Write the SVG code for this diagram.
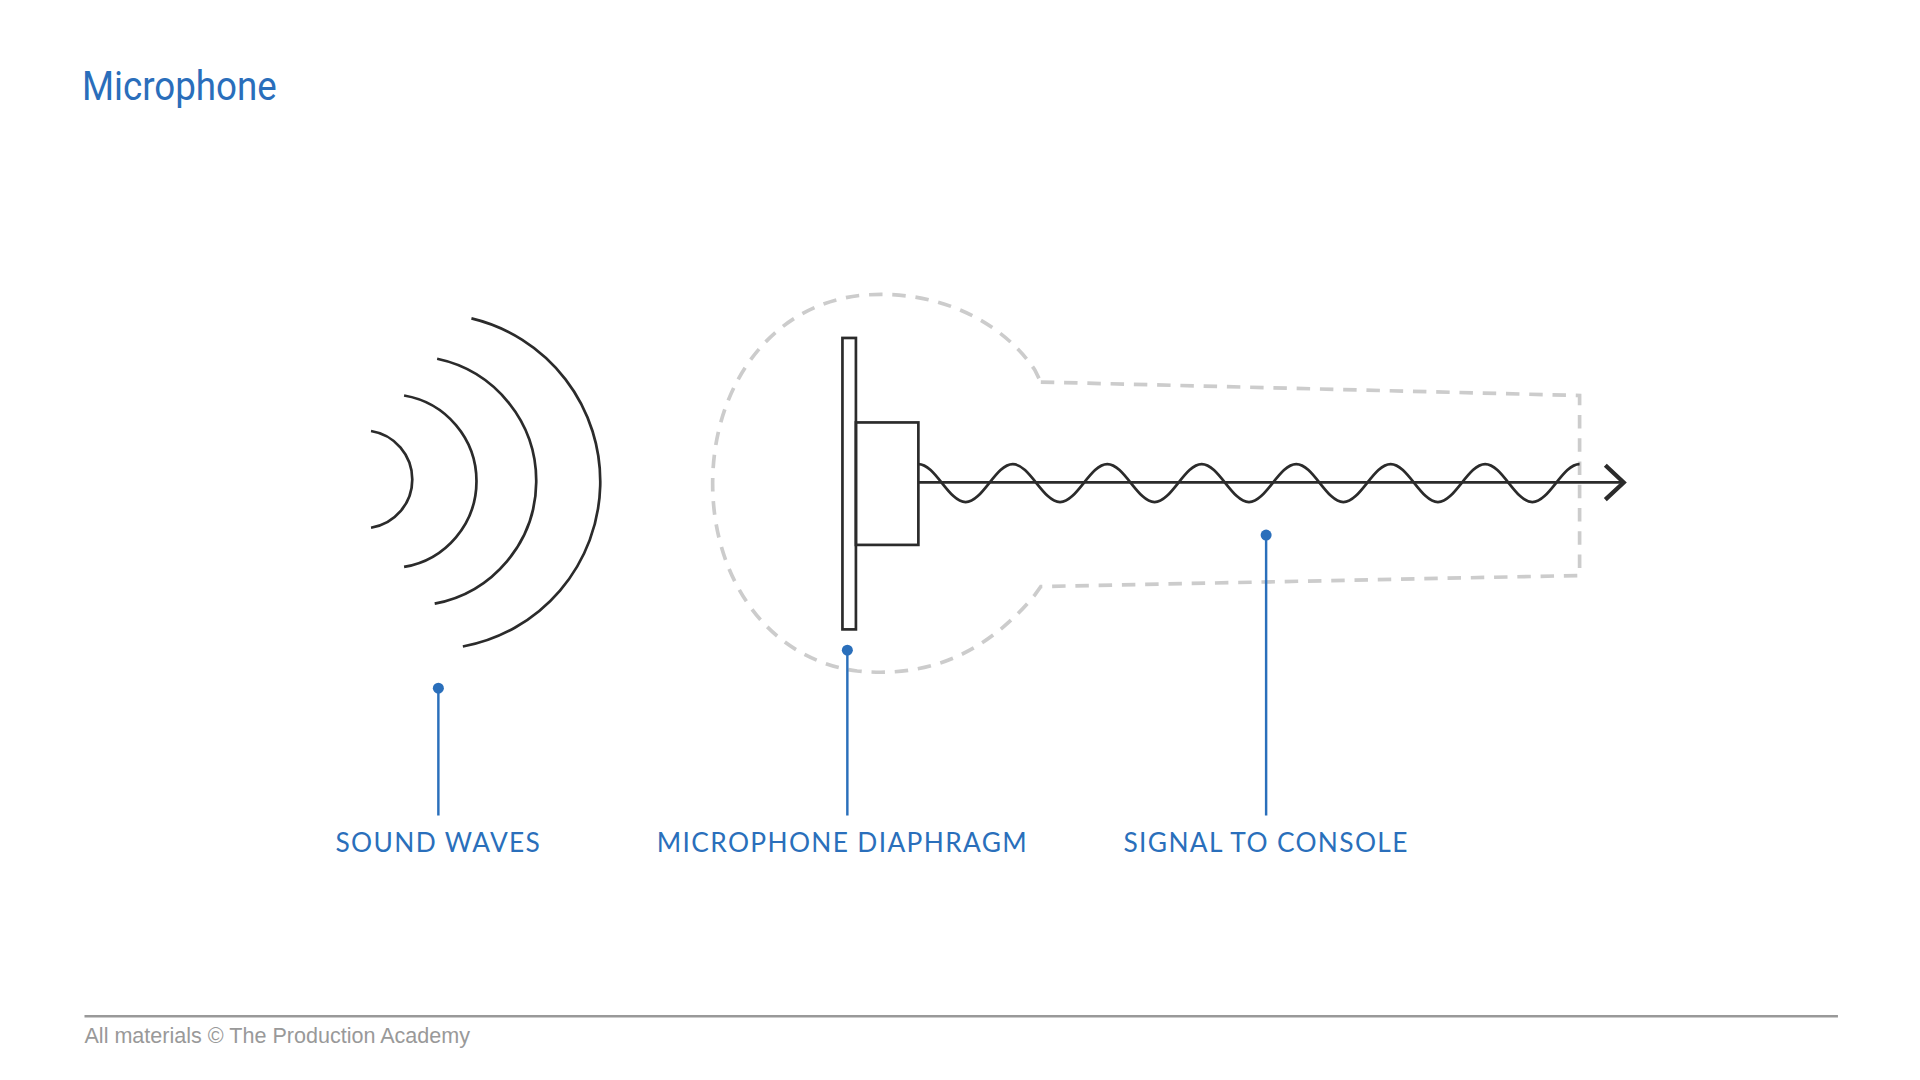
<svg xmlns="http://www.w3.org/2000/svg" width="1920" height="1080" viewBox="0 0 1920 1080">
<style>
.ink{fill:none;stroke:#2b2b2b;stroke-width:2.2}
.call{stroke:#2a6fbb;stroke-width:2;fill:none}
.dot{fill:#2a6fbb}
.lbl{font-family:Lato,"Liberation Sans",sans-serif;font-size:21.5px;fill:#2a6fbb;text-anchor:middle;letter-spacing:1.1px}
</style>
<rect width="1920" height="1080" fill="#fff"/>
<g transform="scale(1.22449)">
<text x="67" y="82" font-family="Roboto,'Liberation Sans',sans-serif" font-size="33" fill="#2a6ebb" textLength="159" lengthAdjust="spacingAndGlyphs">Microphone</text>
<g id="sound-waves">
<path class="ink" d="M303,352 A40,40 0 0 1 303,431"/>
<path class="ink" d="M330,323 A71,71 0 0 1 330,463"/>
<path class="ink" d="M357,293 A102,102 0 0 1 355,493"/>
<path class="ink" d="M385,260 A137,137 0 0 1 378,528"/>
</g>
<g id="mic-body">
<path d="M850,312 L1290,323 L1290,470 L850,479 L845,486 C800,540 750,553 700,548 C625,538 582,470 582,395 C582,315 630,248 705,241 C770,236 820,265 845,302 Z" fill="none" stroke="#cccccc" stroke-width="3" stroke-dasharray="11 8"/>
</g>
<g id="diaphragm">
<rect class="ink" x="688" y="276" width="11" height="238" fill="#fff"/>
<rect class="ink" x="699" y="345" width="51" height="100"/>
</g>
<g id="signal">
<path class="ink" d="M750,379 C764,379 774.6,410 788.6,410 S813.1,379 827.1,379 S851.7,410 865.7,410 S890.3,379 904.3,379 S928.9,410 942.9,410 S967.4,379 981.4,379 S1006,410 1020,410 S1044.6,379 1058.6,379 S1083.1,410 1097.1,410 S1121.7,379 1135.7,379 S1160.3,410 1174.3,410 S1198.9,379 1212.9,379 S1237.4,410 1251.4,410 S1276,379 1290,379"/>
<line class="ink" x1="750" y1="394" x2="1326" y2="394"/>
<polyline points="1311,380 1326,394 1311,408" fill="none" stroke="#2b2b2b" stroke-width="3.5"/>
</g>
<g id="connectors">
<circle class="dot" cx="358" cy="562" r="4.5"/><line class="call" x1="358" y1="562" x2="358" y2="666"/>
<circle class="dot" cx="692" cy="531" r="4.5"/><line class="call" x1="692" y1="531" x2="692" y2="666"/>
<circle class="dot" cx="1034" cy="437" r="4.5"/><line class="call" x1="1034" y1="437" x2="1034" y2="666"/>
</g>
<g id="labels">
<text class="lbl" x="358" y="696">SOUND WAVES</text>
<text class="lbl" x="688" y="696">MICROPHONE DIAPHRAGM</text>
<text class="lbl" x="1034" y="696">SIGNAL TO CONSOLE</text>
</g>
<line x1="69" y1="830" x2="1501" y2="830" stroke="#999" stroke-width="2"/>
<text x="69" y="852" font-family="'Liberation Sans',Arial,sans-serif" font-size="17.6" fill="#999">All materials © The Production Academy</text>
</g>
</svg>
